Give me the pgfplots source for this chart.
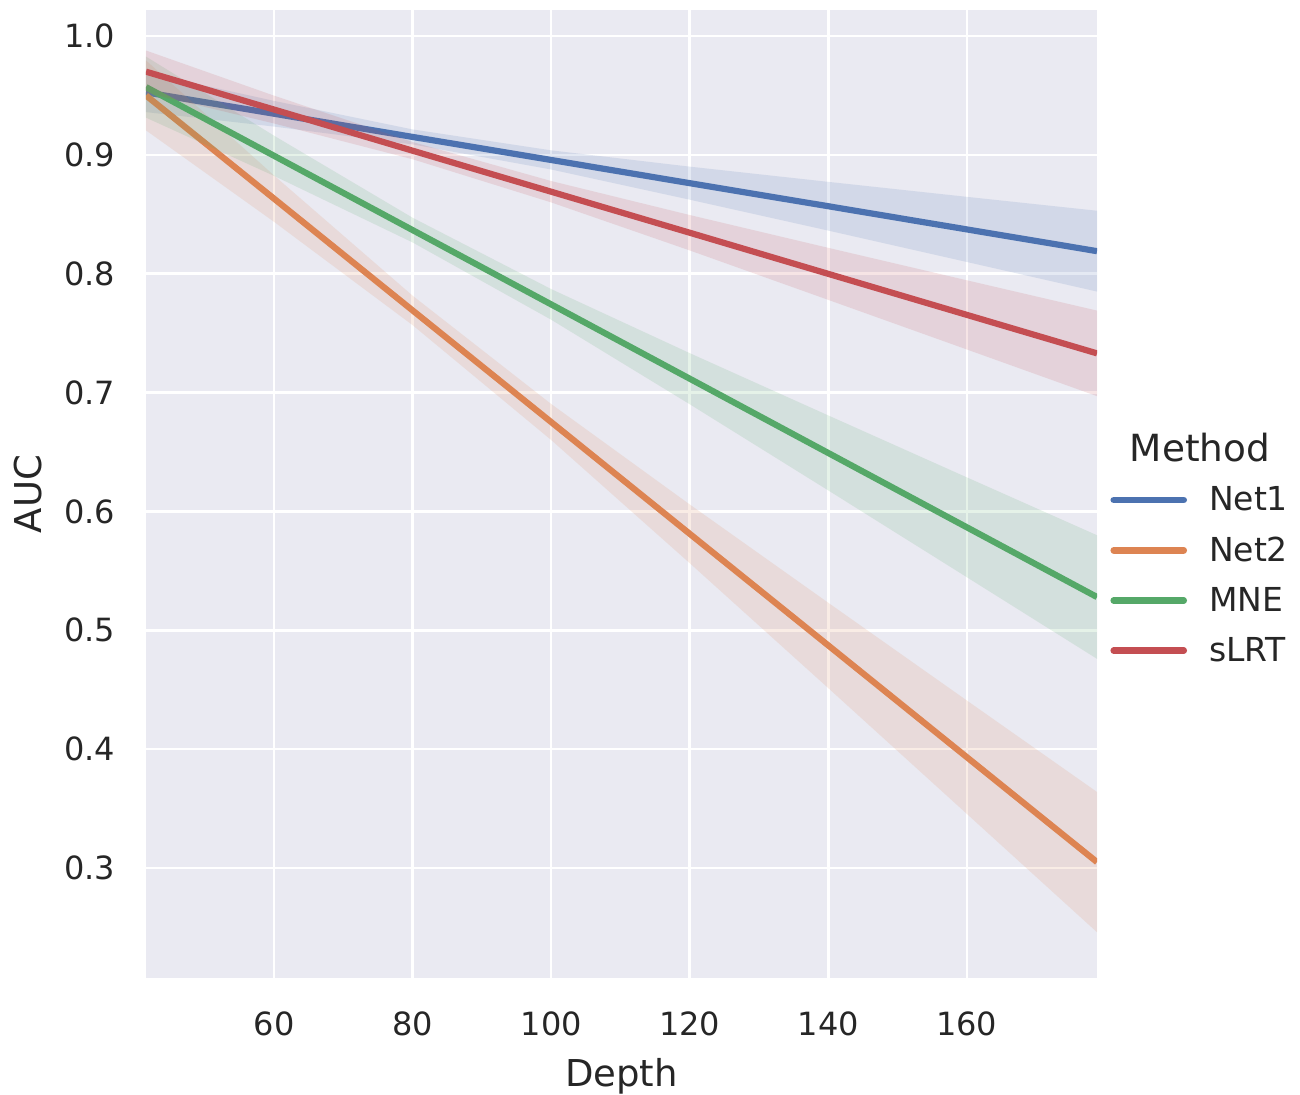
\documentclass[border=0pt]{standalone}
\usepackage{fontspec}
\setmainfont{DejaVu Sans}
\usepackage{pgfplots}
\pgfplotsset{compat=1.18}
\definecolor{bgcol}{HTML}{EAEAF2}
\definecolor{cblue}{HTML}{4C72B0}
\definecolor{corange}{HTML}{DD8452}
\definecolor{cgreen}{HTML}{55A868}
\definecolor{cred}{HTML}{C44E52}
\begin{document}
\begin{tikzpicture}
\begin{axis}[
  scale only axis,
  width=475.5pt, height=484pt,
  xmin=41.5, xmax=178.8, ymin=0.2075, ymax=1.0219,
  axis background/.style={fill=bgcol},
  axis line style={draw=none},
  major tick length=0pt,
  grid=major,
  major grid style={white, line width=1.25pt},
  xtick={60,80,100,120,140,160},
  ytick={0.3,0.4,0.5,0.6,0.7,0.8,0.9,1.0},
  yticklabel style={/pgf/number format/fixed, /pgf/number format/fixed zerofill, /pgf/number format/precision=1, xshift=-12pt},
  /pgf/number format/assume math mode=true,
  ticklabel style={font=\fontsize{16}{19}\selectfont, text=black!85},
  xticklabel style={yshift=-13.5pt},
  xlabel={Depth}, ylabel={AUC},
  label style={font=\fontsize{18.5}{22}\selectfont, text=black!85},
  xlabel style={yshift=-4pt},
  ylabel style={yshift=4pt},
  legend style={at={(axis description cs:1.0137,0.416)}, anchor=west, draw=none, fill=none,
    font=\fontsize{16.5}{20}\selectfont, text=black!85, row sep=7.5pt, inner sep=0pt},
  legend cell align=left,
  legend image code/.code={\draw[#1, line width=3.3pt, line cap=round] (0pt,0pt) -- (35pt,0pt);},
  clip=true,
]
% Net1
\addplot[fill=cblue, fill opacity=0.15, draw=none, forget plot] coordinates {
(41.5,0.9692)(60,0.9454)(80,0.9214)(100,0.9038)(120,0.8901)(140,0.8773)(160,0.8647)(178.8,0.8530)
(178.8,0.7850)(160,0.8099)(140,0.8363)(120,0.8623)(100,0.8877)(80,0.9088)(60,0.9238)(41.5,0.9360)} -- cycle;
\addplot[cblue, line width=3.1pt] coordinates {
(41.5,0.9526)(60,0.9346)(80,0.9151)(100,0.8957)(120,0.8762)(140,0.8568)(160,0.8373)(178.8,0.8190)};
\addlegendentry{\hspace*{9pt}Net1}
% Net2
\addplot[fill=corange, fill opacity=0.15, draw=none, forget plot] coordinates {
(41.5,0.9794)(60,0.8826)(80,0.7815)(100,0.6904)(120,0.6059)(140,0.5232)(160,0.4410)(178.8,0.364)
(178.8,0.246)(160,0.3456)(140,0.4514)(120,0.5565)(100,0.6601)(80,0.7567)(60,0.8436)(41.5,0.9206)} -- cycle;
\addplot[corange, line width=3.1pt] coordinates {
(41.5,0.950)(60,0.8631)(80,0.7691)(100,0.6752)(120,0.5812)(140,0.4873)(160,0.3933)(178.8,0.305)};
\addlegendentry{\hspace*{9pt}Net2}
% MNE
\addplot[fill=cgreen, fill opacity=0.15, draw=none, forget plot] coordinates {
(41.5,0.9827)(60,0.9161)(80,0.8471)(100,0.7871)(120,0.7332)(140,0.6808)(160,0.6287)(178.8,0.580)
(178.8,0.476)(160,0.5447)(140,0.6177)(120,0.6902)(100,0.7613)(80,0.8263)(60,0.8823)(41.5,0.9313)} -- cycle;
\addplot[cgreen, line width=3.1pt] coordinates {
(41.5,0.957)(60,0.8992)(80,0.8367)(100,0.7742)(120,0.7117)(140,0.6492)(160,0.5867)(178.8,0.528)};
\addlegendentry{\hspace*{9pt}MNE}
% sLRT
\addplot[fill=cred, fill opacity=0.15, draw=none, forget plot] coordinates {
(41.5,0.9878)(60,0.9498)(80,0.9108)(100,0.8780)(120,0.8494)(140,0.8218)(160,0.7945)(178.8,0.769)
(178.8,0.697)(160,0.7363)(140,0.7780)(120,0.8196)(100,0.8600)(80,0.8963)(60,0.9264)(41.5,0.9522)} -- cycle;
\addplot[cred, line width=3.1pt] coordinates {
(41.5,0.970)(60,0.9381)(80,0.9035)(100,0.8690)(120,0.8345)(140,0.7999)(160,0.7654)(178.8,0.733)};
\addlegendentry{\hspace*{9pt}sLRT}
\end{axis}
\node[font=\fontsize{18.7}{22}\selectfont, text=black!85] at ([shift={(527pt,265pt)}]current axis.south west) {Method};
\pgfresetboundingbox
\path ([shift={(-73pt,-58.5pt)}]current axis.south west) rectangle ++(650pt,547.5pt);
\end{tikzpicture}
\end{document}
